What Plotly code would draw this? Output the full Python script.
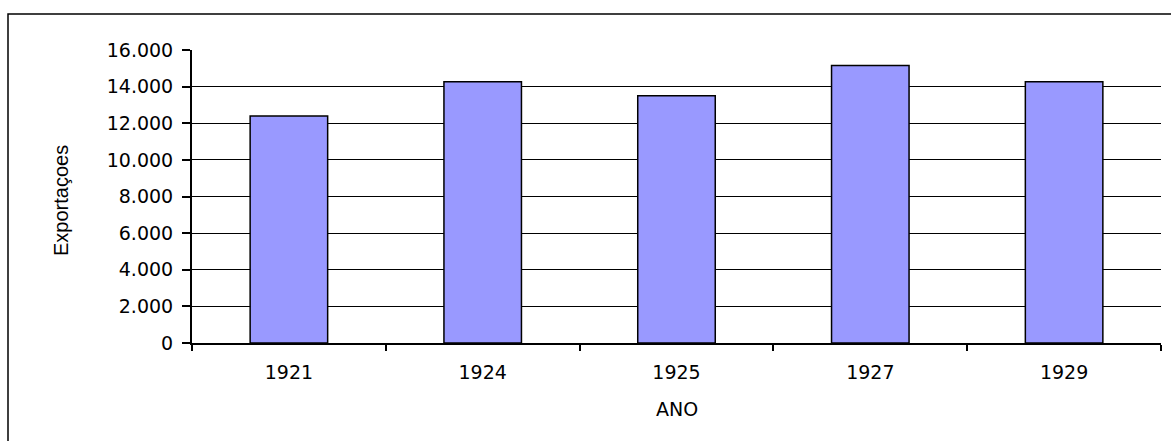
import plotly.graph_objects as go

anos = ["1921", "1924", "1925", "1927", "1929"]
exportacoes = [12390, 14270, 13500, 15150, 14270]
y_ticks = [0, 2000, 4000, 6000, 8000, 10000, 12000, 14000, 16000]

W, H = 1171, 441
L, R, T, B = 192, 10, 50, 98
pw, ph = W - L - R, H - T - B

def px_x(x):
    return (x - L) / pw

def px_y(y):
    return (H - B - y) / ph

fig = go.Figure(go.Bar(
    x=anos, y=exportacoes,
    marker=dict(color="#9999FF", line=dict(color="black", width=1.5)),
    width=0.4,
))

tickfont = dict(family="DejaVu Sans", size=19, color="black")

fig.update_layout(
    width=W, height=H,
    margin=dict(l=L, r=R, t=T, b=B, autoexpand=False),
    paper_bgcolor="white", plot_bgcolor="white",
    separators=",.",
    showlegend=False,
    xaxis=dict(
        type="category", tickson="boundaries", ticks="outside", ticklen=6,
        tickwidth=1.5, tickcolor="black", showline=True, linecolor="black",
        linewidth=1.5, showgrid=False, tickfont=tickfont, ticklabelstandoff=11,
        automargin=False,
    ),
    yaxis=dict(
        range=[0, 16000], tickvals=y_ticks, tickformat=",d", ticks="outside",
        ticklen=8, tickwidth=1.5, tickcolor="black", showline=True,
        linecolor="black", linewidth=2, showgrid=True, gridcolor="black",
        gridwidth=1.2, zeroline=False, tickfont=tickfont, ticklabelstandoff=5,
        automargin=False,
    ),
    shapes=[dict(
        type="rect", xref="paper", yref="paper",
        x0=px_x(8), x1=px_x(1180), y0=px_y(450), y1=px_y(14),
        line=dict(color="black", width=1.5), layer="below",
    )],
    annotations=[
        dict(text="Exportaçoes", xref="paper", yref="paper",
             x=px_x(61), y=px_y(201), xanchor="center", yanchor="middle",
             textangle=-90, showarrow=False,
             font=dict(family="Liberation Sans", size=20, color="black")),
        dict(text="ANO", xref="paper", yref="paper",
             x=0.5, y=px_y(409), xanchor="center", yanchor="middle",
             showarrow=False,
             font=dict(family="DejaVu Sans", size=19, color="black")),
    ],
)

fig.write_html(
    "out.html",
    config={"displayModeBar": False},
    post_script="document.body.style.margin='0';document.body.style.padding='0';",
)
